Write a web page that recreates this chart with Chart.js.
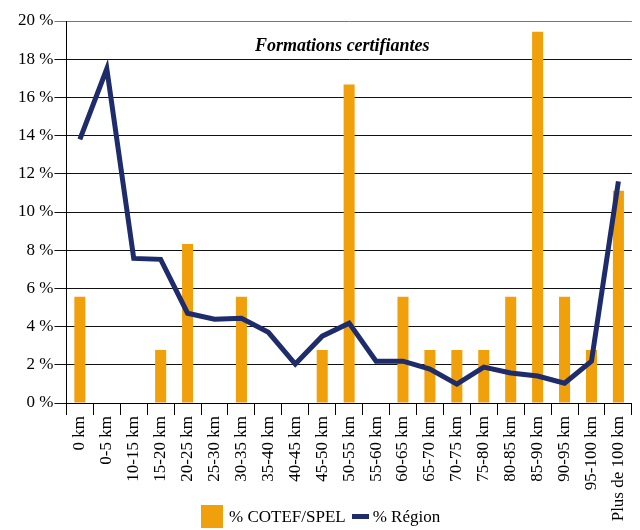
<!DOCTYPE html>
<html lang="fr">
  <head>
    <meta charset="UTF-8" />
    <title>Formations certifiantes</title>
    <style>
      html, body { margin: 0; padding: 0; background: #fff; }
      #wrap { width: 640px; height: 530px; position: relative; }
      #legend {
        position: absolute;
        left: 201px;
        top: 505px;
        height: 23px;
        display: flex;
        align-items: center;
        font-family: "Liberation Serif", "Times New Roman", serif;
        font-size: 17px;
        color: #000;
        white-space: nowrap;
      }
      #legend .box { width: 22px; height: 23px; background: #F0A00A; margin-right: 6px; }
      #legend .line { width: 17px; height: 5px; background: #1F2C6B; margin: 0 4px 0 6px; }
    </style>
  </head>
  <body>
    <div id="wrap">
      <canvas id="chart" width="640" height="530"></canvas>
      <div id="legend">
        <span class="box"></span><span>% COTEF/SPEL</span>
        <span class="line"></span><span>% Région</span>
      </div>
    </div>
    <script src="https://cdn.jsdelivr.net/npm/chart.js"></script>
    <script>
      const categories = ["0 km", "0-5 km", "10-15 km", "15-20 km", "20-25 km", "25-30 km", "30-35 km",
        "35-40 km", "40-45 km", "45-50 km", "50-55 km", "55-60 km", "60-65 km", "65-70 km", "70-75 km",
        "75-80 km", "80-85 km", "85-90 km", "90-95 km", "95-100 km", "Plus de 100 km"]
      const cotefValues = [5.56, 0, 0, 2.78, 8.33, 0, 5.56, 0, 0, 2.78, 16.67, 0, 5.56, 2.78, 2.78,
        2.78, 5.56, 19.44, 5.56, 2.78, 11.11]
      const regionValues = [13.8, 17.5, 7.57, 7.52, 4.7, 4.39, 4.44, 3.7, 2.04, 3.5, 4.18, 2.19, 2.19,
        1.78, 0.99, 1.88, 1.57, 1.41, 1.04, 2.19, 11.6]
      const yTicks = [0, 2, 4, 6, 8, 10, 12, 14, 16, 18, 20]

      const orange = "#F0A00A"
      const navy = "#1F2C6B"
      const serif = "'Liberation Serif', 'Times New Roman', serif"

      const innerTitle = {
        id: "innerTitle",
        afterDraw(chart) {
          const { ctx, chartArea } = chart
          ctx.save()
          ctx.font = "italic bold 18px " + serif
          ctx.fillStyle = "#000"
          ctx.textAlign = "center"
          ctx.textBaseline = "alphabetic"
          ctx.fillText("Formations certifiantes", chartArea.left + chartArea.width * 0.488, chartArea.top + 30)
          ctx.restore()
        },
      }

      new Chart(document.getElementById("chart"), {
        type: "bar",
        data: {
          labels: categories,
          datasets: [
            {
              type: "bar",
              label: "% COTEF/SPEL",
              data: cotefValues,
              backgroundColor: orange,
              barPercentage: 0.41,
              categoryPercentage: 1,
              order: 2,
            },
            {
              type: "line",
              label: "% Région",
              data: regionValues,
              borderColor: navy,
              backgroundColor: navy,
              borderWidth: 5,
              pointRadius: 0,
              tension: 0,
              borderJoinStyle: "miter",
              order: 1,
            },
          ],
        },
        options: {
          responsive: false,
          animation: false,
          layout: { padding: { top: 21, left: 17, right: 8, bottom: 0 } },
          plugins: {
            legend: { display: false },
            tooltip: { enabled: false },
          },
          scales: {
            x: {
              offset: true,
              grid: {
                offset: true,
                drawOnChartArea: false,
                drawTicks: true,
                tickLength: 12,
                color: "#000",
              },
              border: { display: true, color: "#000", width: 1 },
              ticks: {
                minRotation: 90,
                maxRotation: 90,
                autoSkip: false,
                padding: 1,
                color: "#000",
                font: { family: serif, size: 17 },
              },
              afterFit(scale) {
                scale.height = 127
              },
            },
            y: {
              min: 0,
              max: 20,
              afterBuildTicks(scale) {
                scale.ticks = yTicks.map((v) => ({ value: v }))
              },
              grid: {
                color: (c) => (c.tick && c.tick.value === 20 ? "#777" : "#111"),
                lineWidth: 1,
                drawTicks: true,
                tickLength: 12,
              },
              border: { display: true, color: "#000", width: 1 },
              ticks: {
                padding: 1,
                color: "#000",
                font: { family: serif, size: 17 },
                callback: (v) => v + " %",
              },
            },
          },
        },
        plugins: [innerTitle],
      })
    </script>
  </body>
</html>
